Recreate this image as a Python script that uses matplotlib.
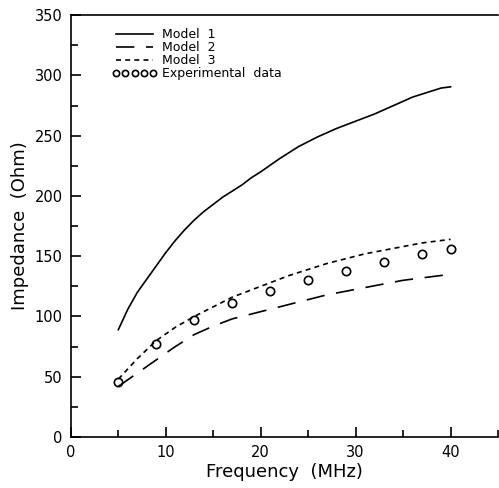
import numpy as np
import matplotlib.pyplot as plt
from matplotlib.ticker import MultipleLocator

# Model 1 (solid)
m1_x = [5, 6, 7, 8, 9, 10, 11, 12, 13, 14, 15, 16, 17, 18, 19, 20, 22, 24, 26, 28, 30, 32, 34, 36, 38, 39, 40]
m1_y = [89, 106, 120, 131, 142, 153, 163, 172, 180, 187, 193, 199, 204, 209, 215, 220, 231, 241, 249, 256, 262, 268, 275, 282, 287, 289.5, 290.5]

# Model 2 (long dash)
m2_x = [5, 7, 9, 11, 13, 15, 17, 19, 21, 23, 25, 27, 29, 31, 33, 35, 37, 39, 40]
m2_y = [42, 53, 64, 75, 85, 92, 98, 102, 106, 110, 114, 118, 121, 124, 127, 130, 132, 134, 135]

# Model 3 (short dash)
m3_x = [5, 7, 9, 11, 13, 15, 17, 19, 21, 23, 25, 27, 29, 31, 33, 35, 37, 39, 40]
m3_y = [48, 65, 80, 91, 100, 108, 116, 122, 128, 134, 139, 144, 148, 152, 155, 158, 161, 163, 164]

# Experimental data
exp_x = [5, 9, 13, 17, 21, 25, 29, 33, 37, 40]
exp_y = [46, 77, 97, 111, 121, 130, 138, 145, 151.5, 156]

fig = plt.figure(figsize=(4.99, 4.88), dpi=100)
ax = fig.add_axes([0.142, 0.1045, 0.856, 0.8645])

ax.plot(m1_x, m1_y, '-k', lw=1.2, label='Model  1')
ax.plot(m2_x, m2_y, color='k', lw=1.2, dashes=(11, 7), label='Model  2')
ax.plot(m3_x, m3_y, color='k', lw=1.2, dashes=(3, 2.5), label='Model  3')
ax.plot(exp_x, exp_y, 'o', mfc='none', mec='k', mew=1.2, ms=6, label='Experimental  data')

ax.set_xlim(0, 45)
ax.set_ylim(0, 350)
ax.xaxis.set_major_locator(MultipleLocator(10))
ax.xaxis.set_minor_locator(MultipleLocator(5))
ax.yaxis.set_major_locator(MultipleLocator(50))
ax.yaxis.set_minor_locator(MultipleLocator(25))
ax.tick_params(which='both', direction='in', top=False, right=False, labelsize=10.5, width=1.2)
ax.tick_params(which='major', length=7, pad=6)
ax.tick_params(which='minor', length=5)
ax.spines['right'].set_visible(False)
for s in ['left', 'bottom', 'top']:
    ax.spines[s].set_linewidth(1.2)

ax.set_xlabel('Frequency  (MHz)', fontsize=13, labelpad=2)
ax.set_ylabel('Impedance  (Ohm)', fontsize=13, labelpad=4)

leg = ax.legend(loc='upper left', bbox_to_anchor=(0.07, 0.995), frameon=False, fontsize=9,
                handlelength=3.6, handletextpad=0.4, labelspacing=0.0, numpoints=5, markerscale=0.75)

fig.savefig('out.png', dpi=100)
